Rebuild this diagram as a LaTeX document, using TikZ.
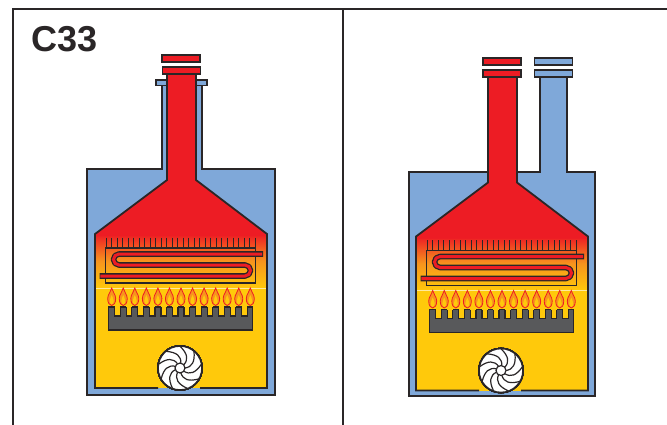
\documentclass[tikz,border=0pt]{standalone}
\usepackage{fontspec}
\setmainfont{Liberation Sans}
\definecolor{blu}{HTML}{7FA8D9}
\definecolor{rd}{HTML}{ED1C24}
\definecolor{yl}{HTML}{FFC90B}
\definecolor{dk}{HTML}{2A2627}
\definecolor{gry}{HTML}{58595B}
\definecolor{org}{HTML}{F7941D}
\tikzset{
  wall/.style={draw=dk,line width=1.8pt,line join=miter},
  frameline/.style={draw=dk,line width=2pt},
  thin wall/.style={draw=dk,line width=1.1pt},
  captext/.style={font=\bfseries\fontsize{36}{36}\selectfont,text=dk,inner sep=0pt,anchor=base west}
}
\newcommand{\flameAt}[1]{%
  \begin{scope}[shift={(#1,297)}]
    \path[fill=org,draw=rd,line width=.8pt] (0,-9) .. controls (0.5,-5) and (4,-3) .. (4,1.5) .. controls (4,6) and (2,8.5) .. (0,8.5) .. controls (-2,8.5) and (-4,6) .. (-4,1.5) .. controls (-4,-3) and (-0.5,-5) .. (0,-9) -- cycle;
    \path[fill=yl] (0,-2) .. controls (0.5,0) and (2,1.5) .. (2,4) .. controls (2,6) and (1,7.5) .. (0,7.5) .. controls (-1,7.5) and (-2,6) .. (-2,4) .. controls (-2,1.5) and (-0.5,0) .. (0,-2) -- cycle;
  \end{scope}}
\newcommand{\interior}{%
  % yellow + gradient chamber
  \path[fill=yl] (95,288) rectangle (267,388);
  \shade[top color=rd,bottom color=yl,middle color=org] (95,234) rectangle (267,288);
  \draw[white!60!yl,line width=.4pt] (95,288) -- (267,288);
  % red flue and hood
  \path[fill=rd] (167,74) -- (167,180) -- (95,234) -- (95,236) -- (267,236) -- (267,234) -- (196,180) -- (196,74) -- cycle;
  \draw[wall] (196,74) -- (196,180) -- (267,234) -- (267,388) -- (200,388);
  \draw[wall] (167,74) -- (167,180) -- (95,234) -- (95,388) -- (158,388);
  % exchanger
  \draw[thin wall] (105.5,248) rectangle (255.5,283);
  \foreach \i in {0,...,27} \draw[thin wall,line width=.9pt] ({106+5.52*\i},237.5) -- ({106+5.52*\i},248);
  \draw[dk,line width=5.6pt,line join=round] (263,254) -- (119,254) arc[start angle=-90,end angle=-270,radius=5.5] -- (245,265) arc[start angle=-90,end angle=90,radius=5.5] -- (99.5,276);
  \draw[rd,line width=3pt] (262.2,254) -- (119,254) arc[start angle=-90,end angle=-270,radius=5.5] -- (245,265) arc[start angle=-90,end angle=90,radius=5.5] -- (100.3,276);
  % burner
  \path[fill=gry,wall,line width=1.2pt] (108.5,307) rectangle (252.5,330);
  \foreach \i in {0,...,11} {
    \path[fill=yl] ({117.5+11.55*\i-2.8},306) rectangle ({117.5+11.55*\i+2.8},316);
    \draw[dk,line width=1.2pt] ({117.5+11.55*\i-2.8},307) -- ({117.5+11.55*\i-2.8},316) -- ({117.5+11.55*\i+2.8},316) -- ({117.5+11.55*\i+2.8},307);
  }
  \foreach \i in {0,...,12} \flameAt{111.7+11.55*\i}
  % fan
  \path[fill=white,draw=dk,line width=1.6pt] (180,368) circle[radius=22];
  \foreach \a in {0,40,...,320} {
    \begin{scope}[shift={(180,368)},rotate=\a]
      \draw[dk,line width=1.2pt] (5,0) .. controls (12,-1) and (15,-6) .. (14,-16.5);
    \end{scope}
  }
  \path[fill=white,draw=dk,line width=1.2pt] (180,368) circle[radius=5];
}
\newcommand{\capbar}[1]{%
  \path[fill=#1,wall,line width=1.5pt] (-19,0) rectangle (19,7);}
\begin{document}
\begin{tikzpicture}[x=1pt,y=-1pt]
\useasboundingbox (0,0) rectangle (667,425);
\path[fill=white] (0,0) rectangle (667,425);
% frame
\draw[frameline] (13,425) -- (13,9) -- (667,9);
\draw[frameline] (343,9) -- (343,425);
\node[captext] (title) at (31,52) {C33};
% left boiler
\path[fill=blu,wall] (87,169) -- (162,169) -- (162,85) -- (202,85) -- (202,169) -- (275,169) -- (275,395) -- (87,395) -- cycle;
\path[fill=blu,wall,line width=1.5pt] (156,80) rectangle (207,85.5);
\interior
\begin{scope}[shift={(181,55)}]\capbar{rd}\end{scope}
\begin{scope}[shift={(181.5,67)}]\capbar{rd}\end{scope}
% right boiler
\path[fill=blu,wall] (409,172) -- (540,172) -- (540,77) -- (567,77) -- (567,172) -- (595,172) -- (595,396) -- (409,396) -- cycle;
\begin{scope}[shift={(321,2.5)}]\interior\end{scope}
\begin{scope}[shift={(502,58)}]\capbar{rd}\end{scope}
\begin{scope}[shift={(502,70)}]\capbar{rd}\end{scope}
\begin{scope}[shift={(553.5,58)}]\capbar{blu}\end{scope}
\begin{scope}[shift={(553.5,70)}]\capbar{blu}\end{scope}
\end{tikzpicture}
\end{document}
